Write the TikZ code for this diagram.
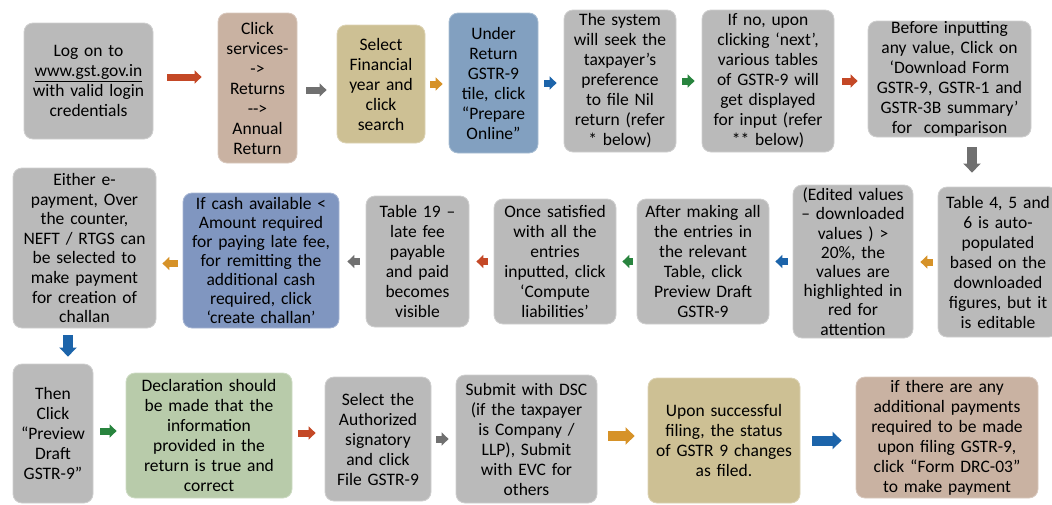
\documentclass[tikz,border=0pt]{standalone}
\usepackage{fontspec}
\setmainfont[WordSpace=0.85]{Carlito}
\usetikzlibrary{arrows.meta,positioning}

\definecolor{boxgray}{RGB}{186,186,186}
\definecolor{boxtan}{RGB}{201,178,162}
\definecolor{boxkhaki}{RGB}{205,192,148}
\definecolor{boxblue}{RGB}{130,160,192}
\definecolor{boxnavy}{RGB}{128,150,192}
\definecolor{boxgreen}{RGB}{184,203,170}
\definecolor{arrred}{RGB}{196,72,38}
\definecolor{arrgray}{RGB}{112,112,112}
\definecolor{arrorange}{RGB}{214,146,40}
\definecolor{arrblue}{RGB}{28,100,170}
\definecolor{arrgreen}{RGB}{40,132,62}

\tikzset{
  stepbox/.style={rounded corners=9pt, fill=#1, draw=#1!70!white, line width=0.8pt,
    align=center, inner xsep=1pt, inner ysep=0pt, font=\fontsize{17.5}{20}\selectfont},
  flow/.style={color=#1, line width=7pt, -{Triangle[width=13pt,length=7pt]}},
  bigflow/.style={color=#1, line width=10pt, -{Triangle[width=17pt,length=9pt]}}
}

\begin{document}
\begin{tikzpicture}[x=1pt,y=-1pt]
  \useasboundingbox (0,0) rectangle (1052,504);

  %Row 1 (left to right)
  \node[stepbox=boxgray, text width=127, minimum height=116] (login) at (88.5,81)
    {Log on to\\ \underline{www.gst.gov.in}\\ with valid login\\ credentials};
  \node[stepbox=boxtan, text width=77, minimum height=150] (services) at (257.5,88)
    {Click\\ services-\\ -{}>\\ Returns\\ -{}-{}>\\ Annual\\ Return};
  \node[stepbox=boxkhaki, text width=86, minimum height=118] (finyear) at (381,84)
    {Select\\ Financial\\ year and\\ click\\ search};
  \node[stepbox=boxblue, text width=87, minimum height=140] (prepare) at (493.5,83)
    {Under\\ Return\\ GSTR-9\\ tile, click\\ “Prepare\\ Online”};
  \node[stepbox=boxgray, text width=110, minimum height=142] (nilpref) at (620,81)
    {The system\\ will seek the\\ taxpayer’s\\ preference\\ to file Nil\\ return (refer\\ {*} below)};
  \node[stepbox=boxgray, text width=130, minimum height=142] (tables) at (768,81)
    {If no, upon\\ clicking ‘next’,\\ various tables\\ of GSTR-9 will\\ get displayed\\ for input (refer\\ {**} below)};
  \node[stepbox=boxgray, text width=161, minimum height=116] (download) at (949.5,79)
    {Before inputting\\ any value, Click on\\ ‘Download Form\\ GSTR-9, GSTR-1 and\\ GSTR-3B summary’\\ for\ \ comparison};

  %Row 2 (right to left)
  \node[stepbox=boxgray, text width=118, minimum height=150] (autopop) at (998,262)
    {Table 4, 5 and\\ 6 is auto-\\ populated\\ based on the\\ downloaded\\ figures, but it\\ is editable};
  \node[stepbox=boxgray, text width=118, minimum height=153,
        font=\fontsize{17.5}{19.2}\selectfont] (edited) at (853,261.5)
    {(Edited values\\ – downloaded\\ values ) >\\ 20\%, the\\ values are\\ highlighted in\\ red for\\ attention};
  \node[stepbox=boxgray, text width=130, minimum height=125] (preview) at (703,261.5)
    {After making all\\ the entries in\\ the relevant\\ Table, click\\ Preview Draft\\ GSTR-9};
  \node[stepbox=boxgray, text width=120, minimum height=125] (compute) at (555,261.5)
    {Once satisfied\\ with all the\\ entries\\ inputted, click\\ ‘Compute\\ liabilities’};
  \node[stepbox=boxgray, text width=101, minimum height=131] (latefee) at (417.5,261.5)
    {Table 19 –\\ late fee\\ payable\\ and paid\\ becomes\\ visible};
  \node[stepbox=boxnavy, text width=154, minimum height=135,
        font=\fontsize{17.5}{19}\selectfont] (challan) at (261,260.5)
    {If cash available <\\ Amount required\\ for paying late fee,\\ for remitting the\\ additional cash\\ required, click\\ ‘create challan’};
  \node[stepbox=boxgray, text width=141, minimum height=160,
        font=\fontsize{17.5}{19.6}\selectfont] (payment) at (84.5,248)
    {Either e-\\ payment, Over\\ the counter,\\ NEFT / RTGS can\\ be selected to\\ make payment\\ for creation of\\ challan};

  %Row 3 (left to right)
  \node[stepbox=boxgray, text width=78, minimum height=139] (draft) at (53,433.5)
    {Then\\ Click\\ “Preview\\ Draft\\ GSTR-9”};
  \node[stepbox=boxgreen, text width=164, minimum height=125] (declare) at (209,435.5)
    {Declaration should\\ be made that the\\ information\\ provided in the\\ return is true and\\ correct};
  \node[stepbox=boxgray, text width=104, minimum height=124] (signatory) at (378,439)
    {Select the\\ Authorized\\ signatory\\ and click\\ File GSTR-9};
  \node[stepbox=boxgray, text width=139, minimum height=128] (submit) at (526.5,439)
    {Submit with DSC\\ (if the taxpayer\\ is Company /\\ LLP), Submit\\ with EVC for\\ others};
  \node[stepbox=boxkhaki, text width=150, minimum height=125] (filed) at (724,440.5)
    {Upon successful\\ filing, the status\\ of GSTR 9 changes\\ as filed.};
  \node[stepbox=boxtan, text width=180, minimum height=121] (drc) at (947,437.5)
    {if there are any\\ additional payments\\ required to be made\\ upon filing GSTR-9,\\ click “Form DRC-03”\\ to make payment};

  %Arrows of row 1
  \draw[flow=arrred, shorten <=14pt, shorten >=16pt] ([yshift=4]login.east) -- ([yshift=4]login.east -| services.west);
  \draw[flow=arrgray, shorten <=9pt, shorten >=10pt] ([yshift=-2]services.east) -- ([yshift=-2]services.east -| finyear.west);
  \draw[flow=arrorange, shorten <=5pt, shorten >=6pt] (finyear.east) -- (finyear.east -| prepare.west);
  \draw[flow=arrblue, shorten <=6pt, shorten >=7pt] (prepare.east) -- (prepare.east -| nilpref.west);
  \draw[flow=arrgreen, shorten <=6pt, shorten >=7pt] (nilpref.east) -- (nilpref.east -| tables.west);
  \draw[flow=arrred, shorten <=8pt, shorten >=10pt] (tables.east) -- (tables.east -| download.west);
  \draw[bigflow=arrgray, shorten <=10pt, shorten >=14pt] ([xshift=22.5]download.south) -- ([xshift=-26]autopop.north);

  %Arrows of row 2
  \draw[flow=arrorange, shorten <=5pt, shorten >=7pt] (autopop.west) -- (autopop.west -| edited.east);
  \draw[flow=arrblue, shorten <=5pt, shorten >=6pt] (edited.west) -- (edited.west -| preview.east);
  \draw[flow=arrgreen, shorten <=4pt, shorten >=6pt] (preview.west) -- (preview.west -| compute.east);
  \draw[flow=arrred, shorten <=6pt, shorten >=7pt] (compute.west) -- (compute.west -| latefee.east);
  \draw[flow=arrgray, shorten <=6pt, shorten >=8pt] (latefee.west) -- (latefee.west -| challan.east);
  \draw[flow=arrorange, shorten <=5pt, shorten >=6pt] ([yshift=-3]challan.west) -- ([yshift=-3]challan.west -| payment.east);
  \draw[bigflow=arrblue, shorten <=7pt, shorten >=7pt] ([xshift=-16.5]payment.south) -- ([xshift=15]draft.north);

  %Arrows of row 3
  \draw[flow=arrgreen, shorten <=7pt, shorten >=9pt] ([yshift=2.5]draft.east) -- ([yshift=2.5]draft.east -| declare.west);
  \draw[flow=arrred, shorten <=6pt, shorten >=9pt] ([yshift=2.5]declare.east) -- ([yshift=2.5]declare.east -| signatory.west);
  \draw[flow=arrgray, shorten <=5pt, shorten >=7pt] (signatory.east) -- (signatory.east -| submit.west);
  \draw[bigflow=arrorange, shorten <=11pt, shorten >=13pt] ([yshift=3]submit.east) -- ([yshift=3]submit.east -| filed.west);
  \draw[bigflow=arrblue, shorten <=12pt, shorten >=14pt] (filed.east) -- (filed.east -| drc.west);
\end{tikzpicture}
\end{document}
